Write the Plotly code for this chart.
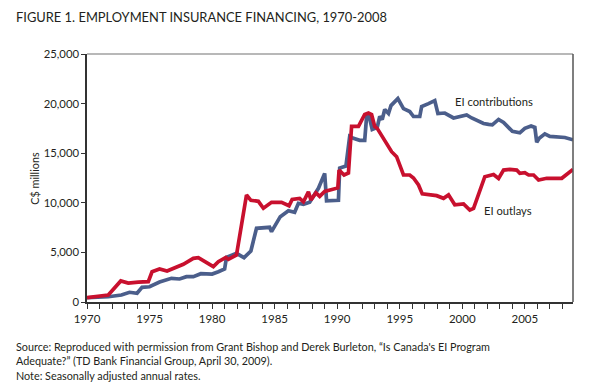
import plotly.graph_objects as go

# EI contributions (C$ millions, SAAR)
contrib_year = [1970.0, 1971.0, 1971.7, 1972.75, 1973.4, 1974.0, 1974.4, 1975.0, 1975.8, 1976.75,
                1977.4, 1977.95, 1978.5, 1979.1, 1980.0, 1980.5, 1981.0, 1981.15, 1981.95, 1982.55,
                1983.1, 1983.55, 1984.6, 1984.75, 1985.2, 1985.45, 1986.1, 1986.6, 1986.9, 1987.3,
                1987.8, 1988.5, 1989.0, 1989.15, 1990.1, 1990.2, 1990.7, 1991.0, 1991.3, 1991.8,
                1992.2, 1992.35, 1992.5, 1992.8, 1993.2, 1993.4, 1993.6, 1993.8, 1994.1, 1994.3,
                1994.85, 1995.3, 1995.8, 1996.1, 1996.6, 1996.75, 1997.3, 1997.8, 1998.05, 1998.6,
                1999.3, 1999.8, 2000.35, 2000.75, 2001.15, 2001.7, 2002.1, 2002.4, 2002.9, 2003.3,
                2004.0, 2004.6, 2005.0, 2005.5, 2005.8, 2005.95, 2006.15, 2006.6, 2007.0, 2007.55,
                2008.2, 2008.85]
contrib_val = [430, 480, 530, 700, 980, 880, 1480, 1540, 2020, 2390,
               2320, 2550, 2550, 2850, 2820, 3050, 3330, 4500, 4900, 4470,
               5140, 7430, 7530, 7090, 8000, 8600, 9200, 9040, 9950, 9850,
               10050, 11460, 12970, 10200, 10250, 13500, 13700, 16700, 16500, 16300,
               16300, 18700, 19000, 17400, 17600, 18700, 18400, 19400, 19000, 19800,
               20500, 19500, 19200, 18700, 18700, 19700, 20000, 20300, 19000, 19050,
               18550, 18700, 18850, 18550, 18350, 18000, 17900, 17850, 18400, 18100,
               17200, 17050, 17500, 17750, 17600, 16100, 16500, 16950, 16700, 16680,
               16580, 16350]

# EI outlays (C$ millions, SAAR)
outlay_year = [1970.0, 1971.7, 1972.7, 1973.3, 1974.1, 1974.9, 1975.2, 1975.8, 1976.4, 1977.7,
               1978.5, 1978.9, 1980.1, 1980.5, 1981.1, 1981.3, 1981.95, 1982.75, 1983.1, 1983.7,
               1984.1, 1984.75, 1985.55, 1986.15, 1986.4, 1987.0, 1987.3, 1987.7, 1987.9, 1988.3,
               1988.6, 1989.0, 1990.05, 1990.15, 1990.55, 1990.9, 1991.15, 1991.7, 1992.2, 1992.5,
               1992.75, 1993.0, 1993.2, 1993.7, 1994.1, 1994.35, 1994.75, 1995.3, 1995.8, 1996.1,
               1996.5, 1996.8, 1997.95, 1998.5, 1998.9, 1999.4, 2000.1, 2000.6, 2000.9, 2001.8,
               2002.5, 2002.9, 2003.3, 2003.8, 2004.35, 2004.6, 2005.0, 2005.3, 2005.7, 2005.85,
               2006.1, 2006.75, 2007.3, 2007.95, 2008.85]
outlay_val = [430, 700, 2120, 1900, 2000, 2050, 3050, 3330, 3120, 3800,
              4400, 4470, 3560, 4060, 4500, 4300, 4740, 10790, 10250, 10150,
              9450, 10050, 10050, 9700, 10350, 10450, 10100, 11100, 10300, 11000,
              10650, 11150, 11500, 13300, 12800, 13000, 17700, 17700, 18900, 19050,
              18900, 17700, 17500, 16500, 15650, 15150, 14650, 12800, 12800, 12500,
              11800, 10900, 10720, 10450, 10800, 9800, 9880, 9270, 9440, 12630,
              12850, 12450, 13300, 13370, 13300, 12970, 13030, 12800, 12800, 12630,
              12300, 12470, 12470, 12470, 13370]

x_ticks = [1970, 1975, 1980, 1985, 1990, 1995, 2000, 2005]
y_ticks = [0, 5000, 10000, 15000, 20000, 25000]

BLUE = "#4b5e8b"
RED = "#c8102e"
TXT = "#231f20"
FONT = "Lato"

fig = go.Figure()
fig.add_trace(go.Scatter(x=contrib_year, y=contrib_val, mode="lines",
                         line=dict(color=BLUE, width=3.7), name="EI contributions"))
fig.add_trace(go.Scatter(x=outlay_year, y=outlay_val, mode="lines",
                         line=dict(color=RED, width=3.7), name="EI outlays"))

fig.update_layout(
    width=594, height=389,
    margin=dict(l=87, r=21, t=54, b=87),
    plot_bgcolor="white", paper_bgcolor="white",
    showlegend=False,
    font=dict(family=FONT, color=TXT, size=11),
)
fig.update_xaxes(range=[1970, 2008.85], tickvals=x_ticks, ticktext=[str(v) for v in x_ticks],
                 ticks="outside", ticklen=5, tickcolor="#333", showgrid=False, zeroline=False,
                 showline=True, linecolor="#333", linewidth=1.5,
                 minor=dict(dtick=1, tick0=1970, ticks="outside", ticklen=5, tickcolor="#333"),
                 tickfont=dict(size=11.5, color=TXT))
fig.update_yaxes(range=[0, 25000], tickvals=y_ticks, ticktext=[f"{v:,}" for v in y_ticks],
                 ticks="outside", ticklen=4, tickcolor="#333", showgrid=False, zeroline=False,
                 showline=True, linecolor="#333", linewidth=1.5,
                 tickfont=dict(size=11.3, color=TXT))

# frame: top (light grey) and right (dark grey)
fig.add_shape(type="line", xref="paper", yref="paper", x0=0, x1=1, y0=1, y1=1,
              line=dict(color="#a0a0a0", width=1.5))
fig.add_shape(type="line", xref="paper", yref="paper", x0=1, x1=1, y0=0, y1=1,
              line=dict(color="#555", width=1.5))

fig.add_annotation(x=1999.25, y=20260, xref="x", yref="y", text="EI contributions",
                   showarrow=False, xanchor="left", yanchor="middle", font=dict(size=11.2, color=TXT))
fig.add_annotation(x=2001.55, y=9270, xref="x", yref="y", text="EI outlays",
                   showarrow=False, xanchor="left", yanchor="middle", font=dict(size=11.2, color=TXT))

def py(pix):
    return (302 - pix) / 248.0

def px(pix):
    return (pix - 87.3) / (572.7 - 87.3)

fig.add_annotation(x=px(34), y=py(178), xref="paper", yref="paper", xanchor="center", yanchor="middle",
                   text="C$ millions", textangle=-90, showarrow=False, font=dict(size=10.8, color=TXT))
fig.add_annotation(x=px(14), y=py(17), xref="paper", yref="paper", xanchor="left", yanchor="middle",
                   text="FIGURE 1. EMPLOYMENT INSURANCE FINANCING, 1970-2008", showarrow=False,
                   font=dict(size=12.9, color=TXT))
foot = ["Source: Reproduced with permission from Grant Bishop and Derek Burleton, \u201cIs Canada's EI Program",
        "Adequate?\u201d (TD Bank Financial Group, April 30, 2009).",
        "Note: Seasonally adjusted annual rates."]
for i, line in enumerate(foot):
    fig.add_annotation(x=px(14), y=py(346 + 14.5 * i), xref="paper", yref="paper", xanchor="left",
                       yanchor="middle", text=line, showarrow=False, font=dict(size=10.8, color=TXT))

fig.write_html("out.html", config={"displayModeBar": False},
               post_script="document.body.style.margin='0';")
